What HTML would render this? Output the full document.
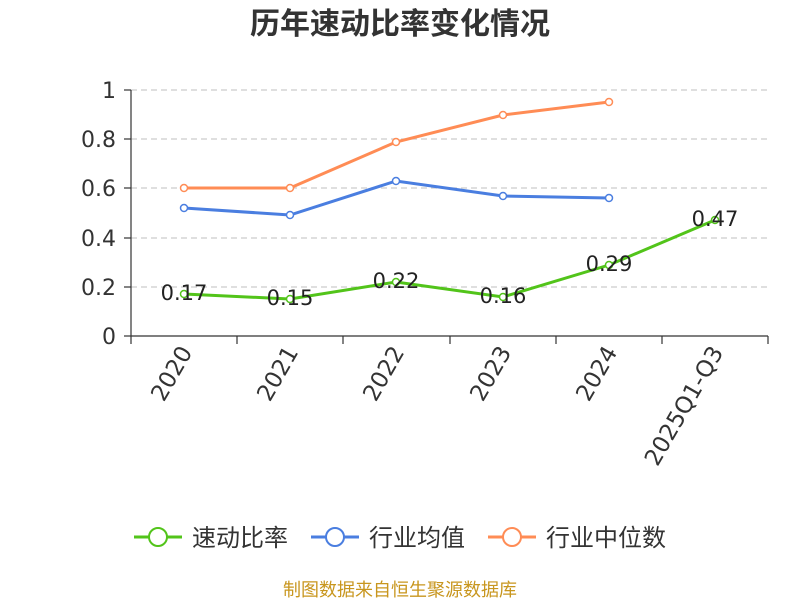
<!DOCTYPE html>
<html><head><meta charset="utf-8"><style>
body{margin:0;background:#fff}
svg text{font-family:"DejaVu Sans","Noto Sans CJK SC",sans-serif}
</style></head><body>
<svg width="800" height="600" xmlns="http://www.w3.org/2000/svg">
<text x="400" y="34" text-anchor="middle" font-size="30" font-weight="bold" fill="#333" font-family="Noto Sans CJK SC,sans-serif">历年速动比率变化情况</text>
<g stroke="#ccc" stroke-dasharray="6,4" stroke-width="1.2">
<line x1="131" y1="90" x2="768" y2="90"/><line x1="131" y1="139" x2="768" y2="139"/>
<line x1="131" y1="188" x2="768" y2="188"/><line x1="131" y1="238" x2="768" y2="238"/>
<line x1="131" y1="287" x2="768" y2="287"/>
</g>
<g stroke="#333" stroke-width="1.2">
<line x1="131" y1="90" x2="131" y2="336"/><line x1="131" y1="336" x2="768" y2="336"/>
<line x1="124" y1="90" x2="131" y2="90"/><line x1="124" y1="139" x2="131" y2="139"/><line x1="124" y1="188" x2="131" y2="188"/><line x1="124" y1="238" x2="131" y2="238"/><line x1="124" y1="287" x2="131" y2="287"/><line x1="124" y1="336" x2="131" y2="336"/>
<line x1="131" y1="336" x2="131" y2="344"/><line x1="237" y1="336" x2="237" y2="344"/><line x1="343" y1="336" x2="343" y2="344"/><line x1="450" y1="336" x2="450" y2="344"/><line x1="556" y1="336" x2="556" y2="344"/><line x1="662" y1="336" x2="662" y2="344"/><line x1="768" y1="336" x2="768" y2="344"/>
</g>
<g font-size="22" fill="#333" text-anchor="end">
<text x="116" y="98">1</text><text x="116" y="147">0.8</text><text x="116" y="196">0.6</text><text x="116" y="246">0.4</text><text x="116" y="295">0.2</text><text x="116" y="344">0</text>
</g>
<g font-size="23" fill="#333" text-anchor="end">
<text transform="translate(193,352) rotate(-60)">2020</text>
<text transform="translate(299,352) rotate(-60)">2021</text>
<text transform="translate(405,352) rotate(-60)">2022</text>
<text transform="translate(512,352) rotate(-60)">2023</text>
<text transform="translate(618,352) rotate(-60)">2024</text>
<text transform="translate(724,352) rotate(-60)">2025Q1-Q3</text>
</g>
<polyline fill="none" stroke="#ff8c55" stroke-width="3" points="184,188 290,188 396,142 503,115 609,102"/>
<polyline fill="none" stroke="#4a7ee0" stroke-width="3" points="184,208 290,215 396,181 503,196 609,198"/>
<polyline fill="none" stroke="#52c41a" stroke-width="3" points="184,294 290,299 396,282 503,297 609,265 715,220"/>
<g fill="#fff" stroke-width="1.5">
<g stroke="#ff8c55"><circle cx="184" cy="188" r="3.5"/><circle cx="290" cy="188" r="3.5"/><circle cx="396" cy="142" r="3.5"/><circle cx="503" cy="115" r="3.5"/><circle cx="609" cy="102" r="3.5"/></g>
<g stroke="#4a7ee0"><circle cx="184" cy="208" r="3.5"/><circle cx="290" cy="215" r="3.5"/><circle cx="396" cy="181" r="3.5"/><circle cx="503" cy="196" r="3.5"/><circle cx="609" cy="198" r="3.5"/></g>
<g stroke="#52c41a"><circle cx="184" cy="294" r="3.5"/><circle cx="290" cy="299" r="3.5"/><circle cx="396" cy="282" r="3.5"/><circle cx="503" cy="297" r="3.5"/><circle cx="609" cy="265" r="3.5"/><circle cx="715" cy="220" r="3.5"/></g>
</g>
<g font-size="21" fill="#222" text-anchor="middle">
<text x="184" y="300">0.17</text><text x="290" y="305">0.15</text><text x="396" y="288">0.22</text><text x="503" y="303">0.16</text><text x="609" y="271">0.29</text><text x="715" y="226">0.47</text>
</g>
<g font-size="24" fill="#333" font-family="Noto Sans CJK SC,sans-serif">
<line x1="134" y1="537" x2="182" y2="537" stroke="#52c41a" stroke-width="3"/><circle cx="158" cy="537" r="9" fill="#fff" stroke="#52c41a" stroke-width="2"/><text x="192" y="546">速动比率</text>
<line x1="311" y1="537" x2="359" y2="537" stroke="#4a7ee0" stroke-width="3"/><circle cx="335" cy="537" r="9" fill="#fff" stroke="#4a7ee0" stroke-width="2"/><text x="369" y="546">行业均值</text>
<line x1="488" y1="537" x2="536" y2="537" stroke="#ff8c55" stroke-width="3"/><circle cx="512" cy="537" r="9" fill="#fff" stroke="#ff8c55" stroke-width="2"/><text x="546" y="546">行业中位数</text>
</g>
<text x="400" y="596" text-anchor="middle" font-size="18" fill="#c8961e" font-family="Noto Sans CJK SC,sans-serif">制图数据来自恒生聚源数据库</text>
</svg>
</body></html>
